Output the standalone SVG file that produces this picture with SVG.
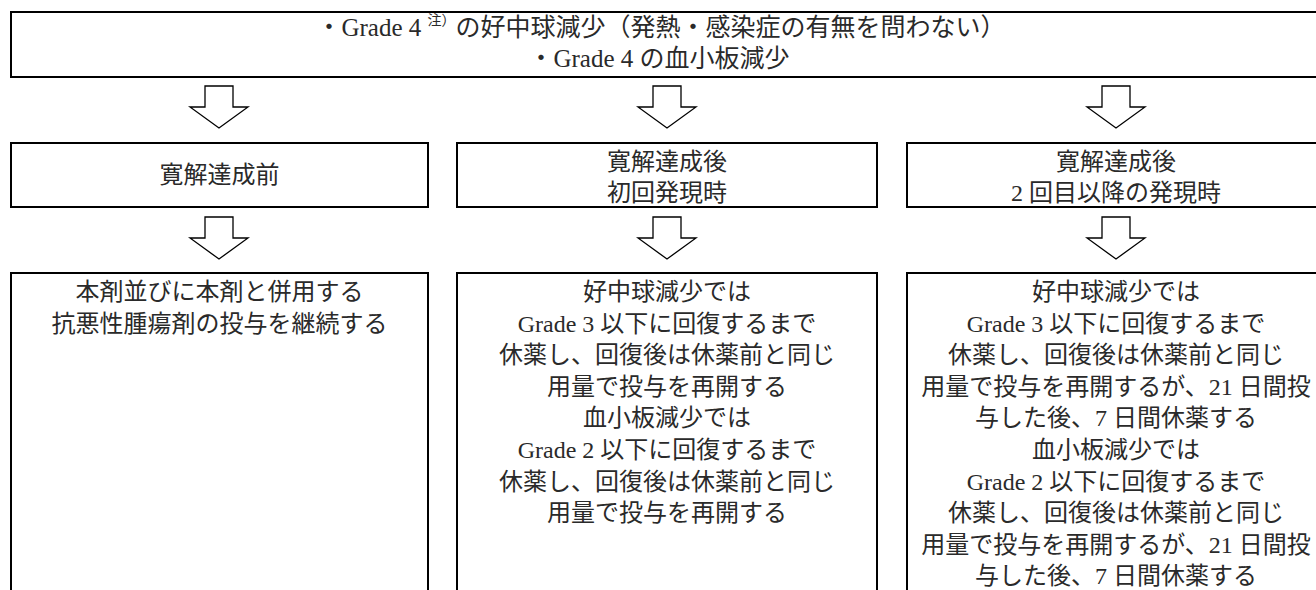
<svg xmlns="http://www.w3.org/2000/svg" width="1316" height="590" viewBox="0 0 1316 590">
<defs>
<style>
.box{fill:#fff;stroke:#000;stroke-width:2}
.arr{fill:#fff;stroke:#000;stroke-width:1.3;stroke-linejoin:miter}
.t{font-family:"Liberation Serif","Noto Sans CJK JP",serif;font-size:24px;fill:#2a2a2a;text-anchor:middle;dominant-baseline:central}
.big{font-size:25px}
.sup{font-size:14px}
</style>
<path id="arrow" class="arr" d="M-14,0 H14 V21 H29 L0,42 L-29,21 H-14 Z"/>
</defs>
<rect width="1316" height="590" fill="#fff"/>

<g id="top">
<rect class="box" x="11" y="12" width="1314" height="65"/>
<text class="t big" x="661" y="27">・Grade 4 <tspan class="sup" dy="-7">注）</tspan><tspan dy="7">の好中球減少（発熱・感染症の有無を問わない）</tspan></text>
<text class="t big" x="659" y="58">・Grade 4 の血小板減少</text>
</g>

<g id="connectors">
<use href="#arrow" x="219" y="86"/>
<use href="#arrow" x="667" y="86"/>
<use href="#arrow" x="1116" y="86"/>
<use href="#arrow" x="219" y="217"/>
<use href="#arrow" x="667" y="217"/>
<use href="#arrow" x="1116" y="217"/>
</g>

<g id="before">
<rect class="box" x="11" y="143" width="417" height="64"/>
<text class="t" x="219.5" y="175">寛解達成前</text>
</g>

<g id="after-first">
<rect class="box" x="457" y="143" width="420" height="64"/>
<text class="t" x="667" y="161.5">寛解達成後</text>
<text class="t" x="667" y="193">初回発現時</text>
</g>

<g id="after-second">
<rect class="box" x="907" y="143" width="418" height="64"/>
<text class="t" x="1116" y="161.5">寛解達成後</text>
<text class="t" x="1116" y="193">2 回目以降の発現時</text>
</g>

<g id="action-before">
<rect class="box" x="11" y="273" width="417" height="330"/>
<text class="t" x="219.5" y="292">本剤並びに本剤と併用する</text>
<text class="t" x="219.5" y="323.6">抗悪性腫瘍剤の投与を継続する</text>
</g>

<g id="action-first">
<rect class="box" x="457" y="273" width="420" height="330"/>
<text class="t" x="667" y="292">好中球減少では</text>
<text class="t" x="667" y="323.6">Grade 3 以下に回復するまで</text>
<text class="t" x="667" y="355.2">休薬し、回復後は休薬前と同じ</text>
<text class="t" x="667" y="386.8">用量で投与を再開する</text>
<text class="t" x="667" y="418.4">血小板減少では</text>
<text class="t" x="667" y="450">Grade 2 以下に回復するまで</text>
<text class="t" x="667" y="481.6">休薬し、回復後は休薬前と同じ</text>
<text class="t" x="667" y="513.2">用量で投与を再開する</text>
</g>

<g id="action-second">
<rect class="box" x="907" y="273" width="418" height="330"/>
<text class="t" x="1116" y="292">好中球減少では</text>
<text class="t" x="1116" y="323.6">Grade 3 以下に回復するまで</text>
<text class="t" x="1116" y="355.2">休薬し、回復後は休薬前と同じ</text>
<text class="t" x="1116" y="386.8">用量で投与を再開するが、21 日間投</text>
<text class="t" x="1116" y="418.4">与した後、7 日間休薬する</text>
<text class="t" x="1116" y="450">血小板減少では</text>
<text class="t" x="1116" y="481.6">Grade 2 以下に回復するまで</text>
<text class="t" x="1116" y="513.2">休薬し、回復後は休薬前と同じ</text>
<text class="t" x="1116" y="544.8">用量で投与を再開するが、21 日間投</text>
<text class="t" x="1116" y="576.4">与した後、7 日間休薬する</text>
</g>
</svg>
